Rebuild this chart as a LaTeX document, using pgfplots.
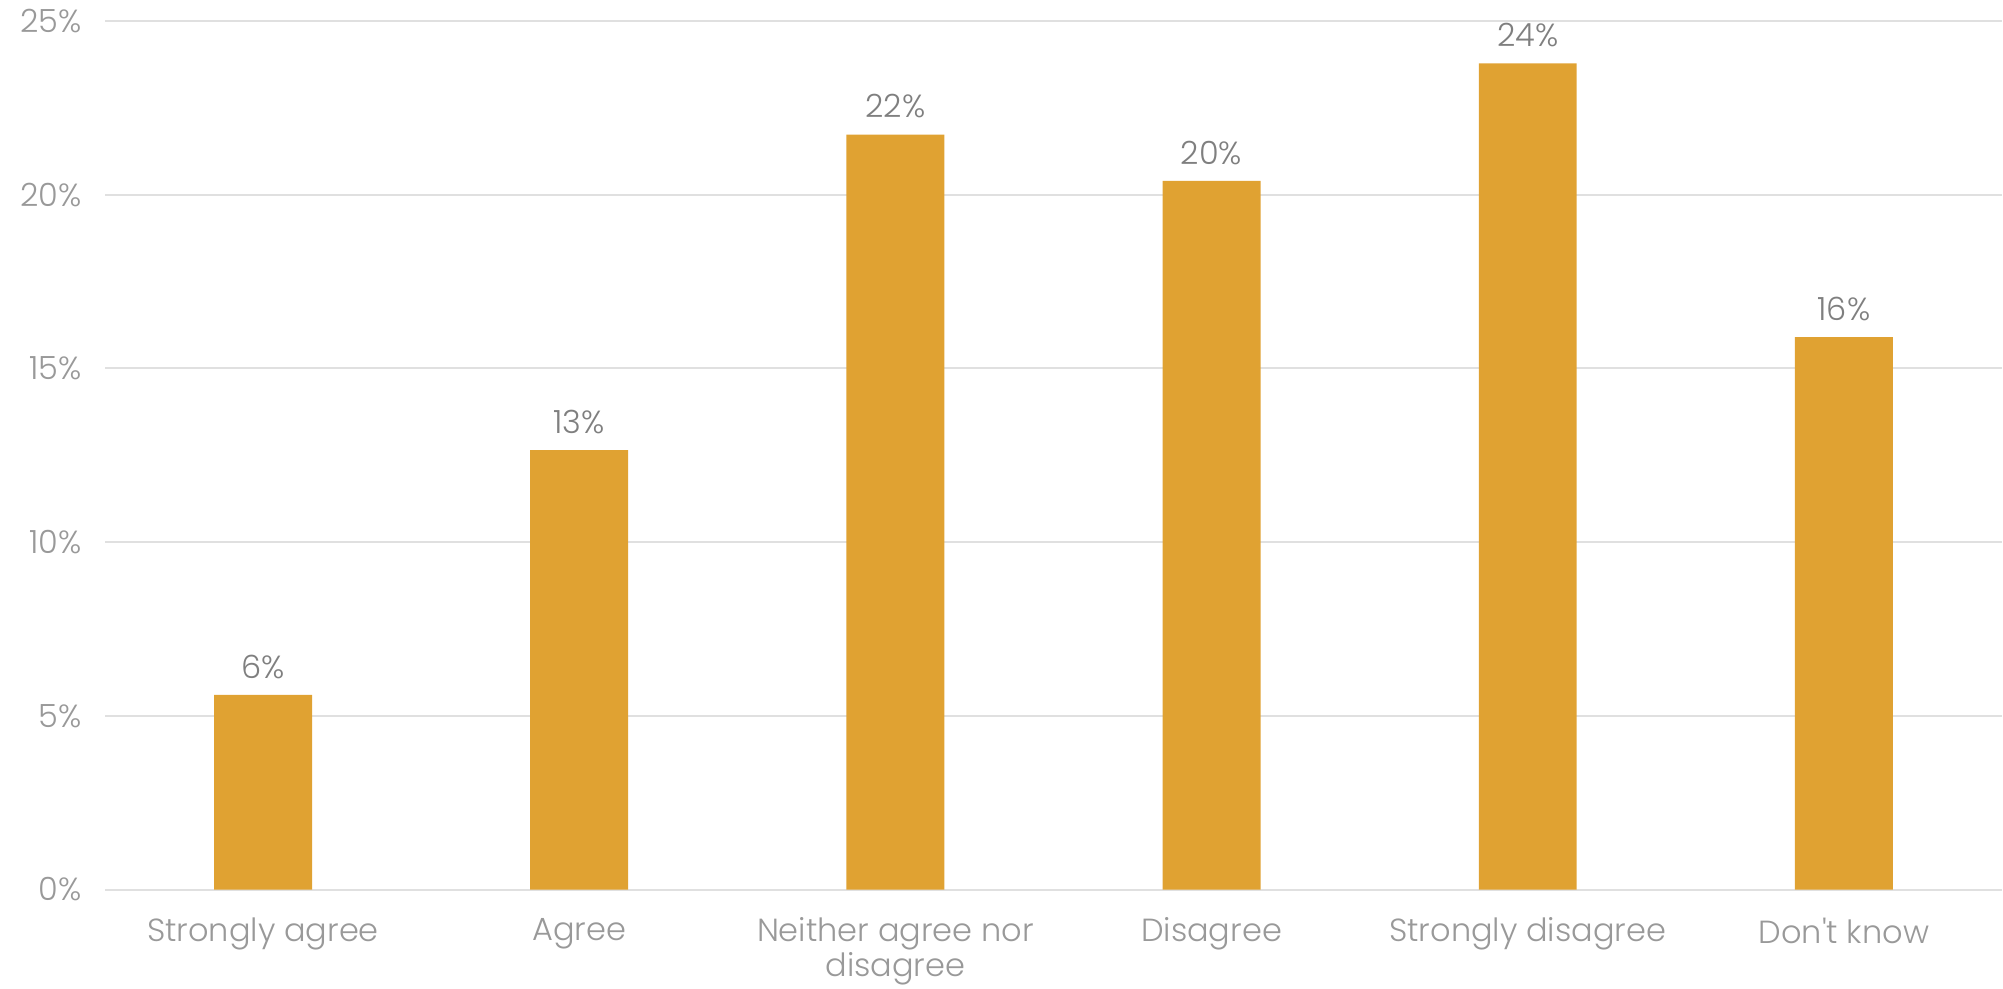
\documentclass[border=0pt]{standalone}
\usepackage{pgfplots}
\pgfplotsset{compat=1.18}
\usepackage{fontspec}
\setmainfont{Poppins}[UprightFont=* Light, Ligatures=TeXOff]
\definecolor{barc}{HTML}{E0A232}
\definecolor{gridc}{HTML}{E0E0E0}
\definecolor{tickc}{HTML}{999999}
\definecolor{labc}{HTML}{7F7F7F}
\begin{document}
\begin{tikzpicture}
\begin{axis}[
  name=ax,
  width=949pt, height=434.5pt, scale only axis,
  xmin=-0.5, xmax=5.5, ymin=0, ymax=25,
  ybar, bar width=49pt,
  axis line style={draw=none},
  ymajorgrids, grid style={gridc, line width=1pt},
  ytick={0,5,10,15,20,25},
  yticklabel={\pgfmathprintnumber{\tick}\%},
  /pgf/number format/assume math mode=true,
  yticklabel style={font=\fontsize{16}{19}\selectfont, text=tickc, xshift=-8pt},
  xtick={0,1,2,3,4,5},
  xticklabels={Strongly agree, Agree, Neither agree nor\\disagree, Disagree, Strongly disagree, Don't know},
  xticklabel style={font=\fontsize{16}{17.5}\selectfont, text=tickc, align=center, yshift=-13pt, inner sep=1pt, overlay},
  major tick length=0pt,
  nodes near coords={\pgfmathprintnumber[fixed,precision=0]{\pgfplotspointmeta}\%},
  nodes near coords style={font=\fontsize{16}{19}\selectfont, text=labc, inner sep=0pt, yshift=8pt},
  clip=false,
]
\addplot[fill=barc, draw=none] coordinates {(0,5.6) (1,12.65) (2,21.73) (3,20.4) (4,23.78) (5,15.9)};
\end{axis}
\path (ax.south west) ++(-52.5pt,-49.5pt) rectangle ++(1001.5pt,494.5pt);
\end{tikzpicture}
\end{document}
